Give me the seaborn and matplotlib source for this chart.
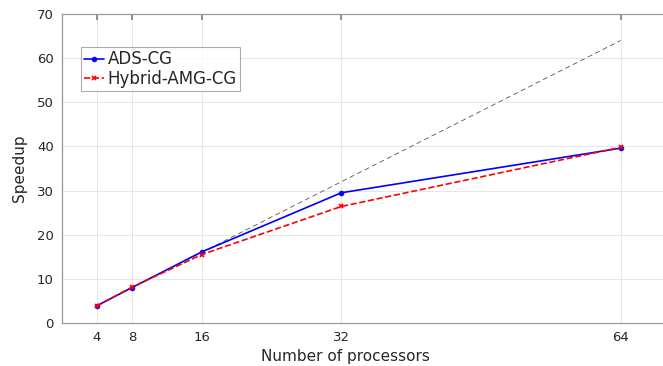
import matplotlib
matplotlib.use('Agg')
import matplotlib.pyplot as plt
import seaborn as sns
import pandas as pd

# Data
procs = [4, 8, 16, 32, 64]
ads_cg = [3.9, 8.0, 16.1, 29.5, 39.6]
hybrid_amg_cg = [3.9, 8.1, 15.5, 26.4, 39.8]
ideal = [4, 8, 16, 32, 64]

sns.set_theme(style='whitegrid')
plt.rcParams['font.family'] = ['DejaVu Sans']

df = pd.DataFrame({'procs': procs, 'ADS-CG': ads_cg, 'Hybrid-AMG-CG': hybrid_amg_cg, 'ideal': ideal})

fig = plt.figure(figsize=(6.63, 3.66), dpi=100)
ax = fig.add_axes([62 / 663, 43 / 366, 611 / 663, 309 / 366])

sns.lineplot(data=df, x='procs', y='ideal', ax=ax, color='#555555', lw=0.6,
             linestyle=(0, (6, 4)), label='_nolegend_')
sns.lineplot(data=df, x='procs', y='ADS-CG', ax=ax, color='#0000ff', lw=1.2,
             marker='o', markersize=3.5, markeredgecolor='#0000ff', markeredgewidth=0.5,
             label='ADS-CG')
sns.lineplot(data=df, x='procs', y='Hybrid-AMG-CG', ax=ax, color='#ff0000', lw=1.2,
             linestyle='--', marker='x', markersize=3.5, markeredgecolor='#ff0000',
             markeredgewidth=1.2, label='Hybrid-AMG-CG')

ax.set_xlim(0, 70)
ax.set_ylim(0, 70)
ax.set_xticks(procs)
ax.set_yticks(range(0, 71, 10))
ax.set_xlabel('Number of processors', fontsize=11, color='#262626')
ax.set_ylabel('Speedup', fontsize=11, color='#262626')
ax.xaxis.set_label_coords((345 - 62) / 611, -0.085)
ax.yaxis.set_label_coords(-0.057, 0.5)
ax.tick_params(axis='both', labelsize=9.5, colors='#262626', direction='in',
               length=4, top=True, right=True, pad=6)
ax.tick_params(axis='both', color='#808080')
ax.grid(True, color='#e6e6e6', lw=0.7)
for s in ax.spines.values():
    s.set_color('#999999')
    s.set_linewidth(0.9)

leg = ax.legend(loc='upper left', bbox_to_anchor=(0.031, 0.893), fontsize=12,
                frameon=True, fancybox=False, handlelength=1.2, handletextpad=0.2,
                borderpad=0.2, labelspacing=0.1, borderaxespad=0)
leg.get_frame().set_edgecolor('#999999')
leg.get_frame().set_linewidth(0.8)

fig.savefig('out.png', dpi=100)
